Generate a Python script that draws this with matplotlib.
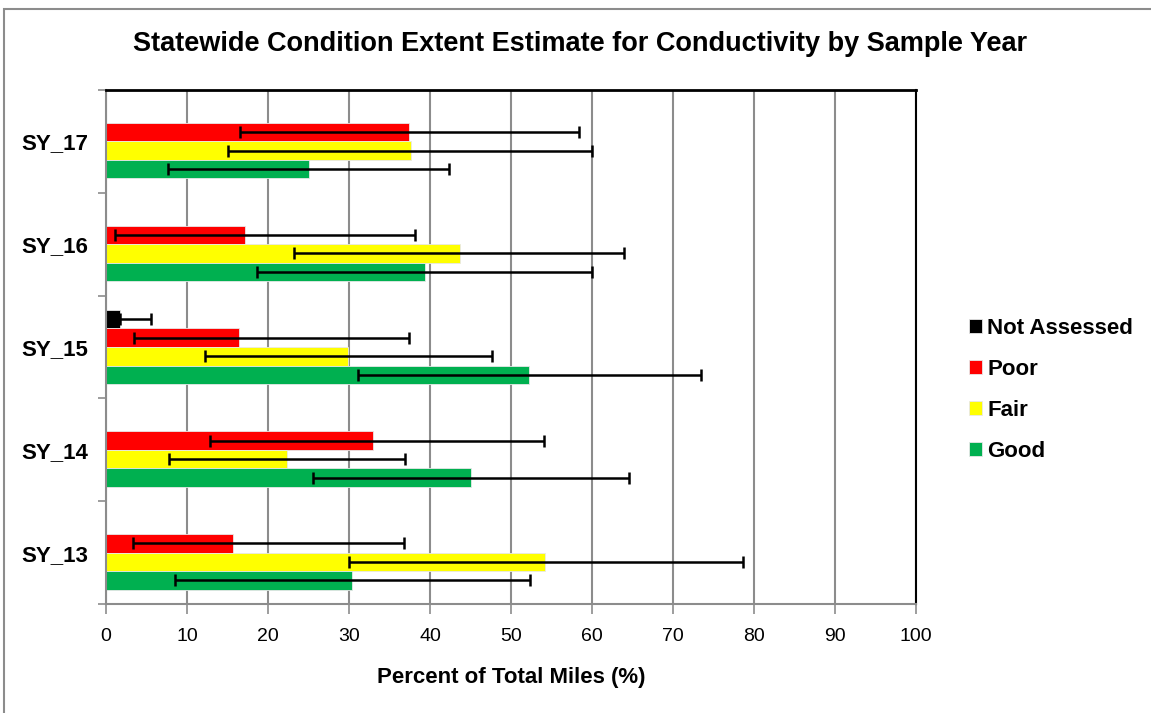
import numpy as np
import matplotlib
matplotlib.use("Agg")
import matplotlib.pyplot as plt
from matplotlib.patches import Rectangle
from matplotlib.ticker import FixedLocator

# sample years, bottom to top
years = ['SY_13', 'SY_14', 'SY_15', 'SY_16', 'SY_17']

not_assessed = [0, 0, 1.7, 0, 0]
na_lo = [np.nan, np.nan, 1.7, np.nan, np.nan]
na_hi = [np.nan, np.nan, 5.5, np.nan, np.nan]

poor = [15.7, 33.0, 16.4, 17.2, 37.4]
poor_lo = [3.3, 12.8, 3.5, 1.1, 16.6]
poor_hi = [36.8, 54.1, 37.4, 38.1, 58.4]

fair = [54.2, 22.4, 29.9, 43.7, 37.6]
fair_lo = [30.0, 7.8, 12.2, 23.2, 15.0]
fair_hi = [78.6, 36.9, 47.6, 64.0, 60.0]

good = [30.4, 45.0, 52.2, 39.4, 25.0]
good_lo = [8.5, 25.5, 31.1, 18.7, 7.7]
good_hi = [52.4, 64.6, 73.4, 60.0, 42.3]

series = [
    ('Not Assessed', not_assessed, na_lo, na_hi, '#000000'),
    ('Poor', poor, poor_lo, poor_hi, '#FF0000'),
    ('Fair', fair, fair_lo, fair_hi, '#FFFF00'),
    ('Good', good, good_lo, good_hi, '#00B050'),
]

plt.rcParams['font.family'] = ['Liberation Sans', 'DejaVu Sans']

W, H = 1151, 713
fig = plt.figure(figsize=(W / 100, H / 100), dpi=100)
ax = fig.add_axes([106 / W, 1 - 604 / H, 810 / W, 514 / H])

# chart border (cropped at right and bottom)
fig.patches.append(Rectangle((4 / W, -0.1), 1.2, 1.1 - 9 / H, transform=fig.transFigure,
                             fill=False, edgecolor='#8c8c8c', lw=1.5))

y = np.arange(len(years))
h = 0.18
offsets = [1.5 * h, 0.5 * h, -0.5 * h, -1.5 * h]

for (name, vals, lo, hi, col), off in zip(series, offsets):
    vals = np.array(vals, dtype=float)
    ax.barh(y + off, vals, height=h, color=col, edgecolor='#e8e8e8', linewidth=0.6,
            label=name, zorder=2)
    lo = np.array(lo, dtype=float)
    hi = np.array(hi, dtype=float)
    m = ~np.isnan(lo)
    ax.errorbar(vals[m], (y + off)[m], xerr=[vals[m] - lo[m], hi[m] - vals[m]],
                fmt='none', ecolor='black', elinewidth=1.8, capsize=4.5, capthick=1.8,
                zorder=3)

ax.set_xlim(0, 100)
ax.set_ylim(-0.5, 4.5)
ax.set_xticks(np.arange(0, 101, 10))
ax.xaxis.grid(True, color='#8c8c8c', linewidth=1.5, zorder=0)
ax.set_axisbelow(True)

ax.set_yticks(y)
ax.set_yticklabels(years, fontsize=16, fontweight='bold')
ax.yaxis.set_minor_locator(FixedLocator(np.arange(-0.5, 4.6, 1)))
ax.tick_params(axis='y', which='major', length=0, pad=13)
ax.tick_params(axis='y', which='minor', length=6, width=1.2, color='#8c8c8c', direction='out')
ax.tick_params(axis='x', length=7, width=1.2, color='#8c8c8c', pad=10, labelsize=14)

ax.spines['left'].set_color('#8c8c8c')
ax.spines['bottom'].set_color('#8c8c8c')
ax.spines['left'].set_linewidth(1.5)
ax.spines['bottom'].set_linewidth(1.5)
ax.spines['top'].set_linewidth(2)
ax.spines['right'].set_linewidth(1.5)

ax.set_xlabel('Percent of Total Miles (%)', fontsize=16, fontweight='bold', labelpad=16)
fig.text(580 / W, 1 - 44 / H, 'Statewide Condition Extent Estimate for Conductivity by Sample Year',
         ha='center', va='center', fontsize=19.5, fontweight='bold')

leg = fig.legend(loc='center left', bbox_to_anchor=(969 / W, 1 - 390 / H), frameon=False,
                 prop={'weight': 'bold', 'size': 16}, handlelength=0.58, handleheight=0.58,
                 handletextpad=0.25, labelspacing=0.9, borderpad=0, borderaxespad=0)

fig.savefig('out.png', dpi=100)
